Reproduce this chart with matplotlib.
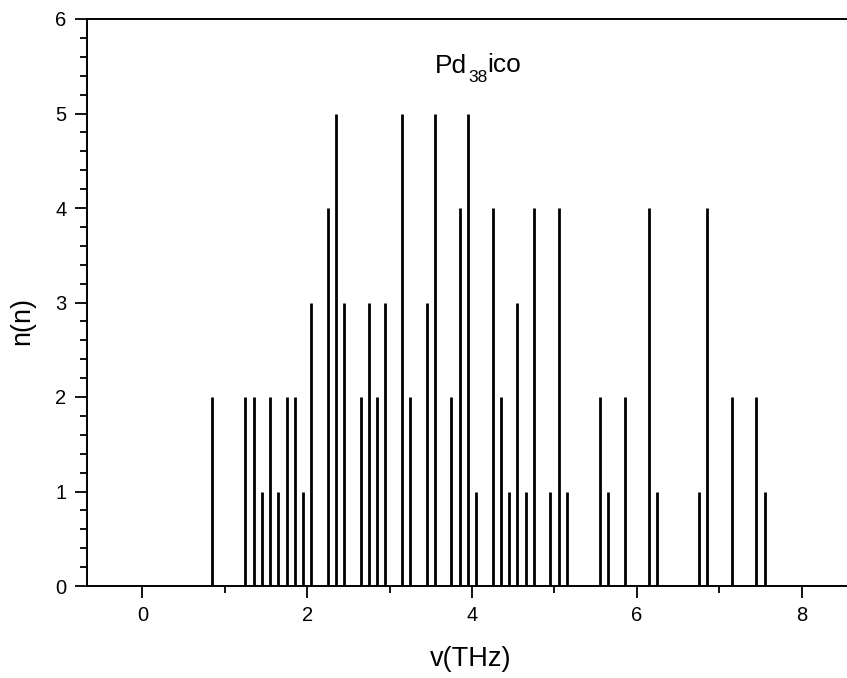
import numpy as np
import matplotlib
matplotlib.use("Agg")
import matplotlib.pyplot as plt
from matplotlib.ticker import MultipleLocator, FixedLocator

plt.rcParams['font.family'] = ['Liberation Sans', 'DejaVu Sans']

# vibrational frequencies (THz) and number of modes in each bin
freq = [0.85, 1.25, 1.35, 1.45, 1.55, 1.65, 1.75, 1.85, 1.95, 2.05,
        2.25, 2.35, 2.45, 2.65, 2.75, 2.85, 2.95, 3.15, 3.25, 3.45,
        3.55, 3.75, 3.85, 3.95, 4.05, 4.25, 4.35, 4.45, 4.55, 4.65,
        4.75, 4.95, 5.05, 5.15, 5.55, 5.65, 5.85, 6.15, 6.25, 6.75,
        6.85, 7.15, 7.45, 7.55]
counts = [2, 2, 2, 1, 2, 1, 2, 2, 1, 3,
          4, 5, 3, 2, 3, 2, 3, 5, 2, 3,
          5, 2, 4, 5, 1, 4, 2, 1, 3, 1,
          4, 1, 4, 1, 2, 1, 2, 4, 1, 1,
          4, 2, 2, 1]

x_major = [0, 2, 4, 6, 8]
x_minor = [1, 3, 5, 7]

fig = plt.figure(figsize=(8.47, 6.78), dpi=100)
ax = fig.add_axes([86.7 / 847, 1 - 586 / 678, 764.5 / 847, 567 / 678])

ax.vlines(freq, 0, counts, color='black', linewidth=2.0)

ax.set_xlim(-0.675, 8.6)
ax.set_ylim(0, 6)
ax.xaxis.set_major_locator(FixedLocator(x_major))
ax.xaxis.set_minor_locator(FixedLocator(x_minor))
ax.yaxis.set_major_locator(MultipleLocator(1))
ax.yaxis.set_minor_locator(MultipleLocator(0.2))

ax.tick_params(which='both', direction='out', width=1.3, top=False, right=False)
ax.tick_params(which='major', length=8.5, labelsize=14.5, pad=6)
ax.tick_params(which='minor', length=4.8)
for s in ['left', 'bottom', 'top']:
    ax.spines[s].set_linewidth(1.4)
ax.spines['right'].set_visible(False)

ax.set_xlabel('v(THz)', fontsize=19.5)
ax.set_ylabel('n(n)', fontsize=19.5)
ax.xaxis.set_label_coords(0.5027, -0.105)
ax.yaxis.set_label_coords(-0.068, 0.467)

# label "Pd38ico" with a small, low subscript
t1 = ax.text(3.555, 5.43, 'Pd', fontsize=19, ha='left', va='baseline')
t2 = ax.annotate('38', xy=(1, 0), xycoords=t1, xytext=(0.3, -3.2),
                 textcoords='offset points', fontsize=12.5, va='baseline')
t3 = ax.annotate('ico', xy=(1, 0), xycoords=t2, xytext=(0.2, 9.8),
                 textcoords='offset points', fontsize=19, va='baseline')

fig.savefig('out.png', dpi=100)
